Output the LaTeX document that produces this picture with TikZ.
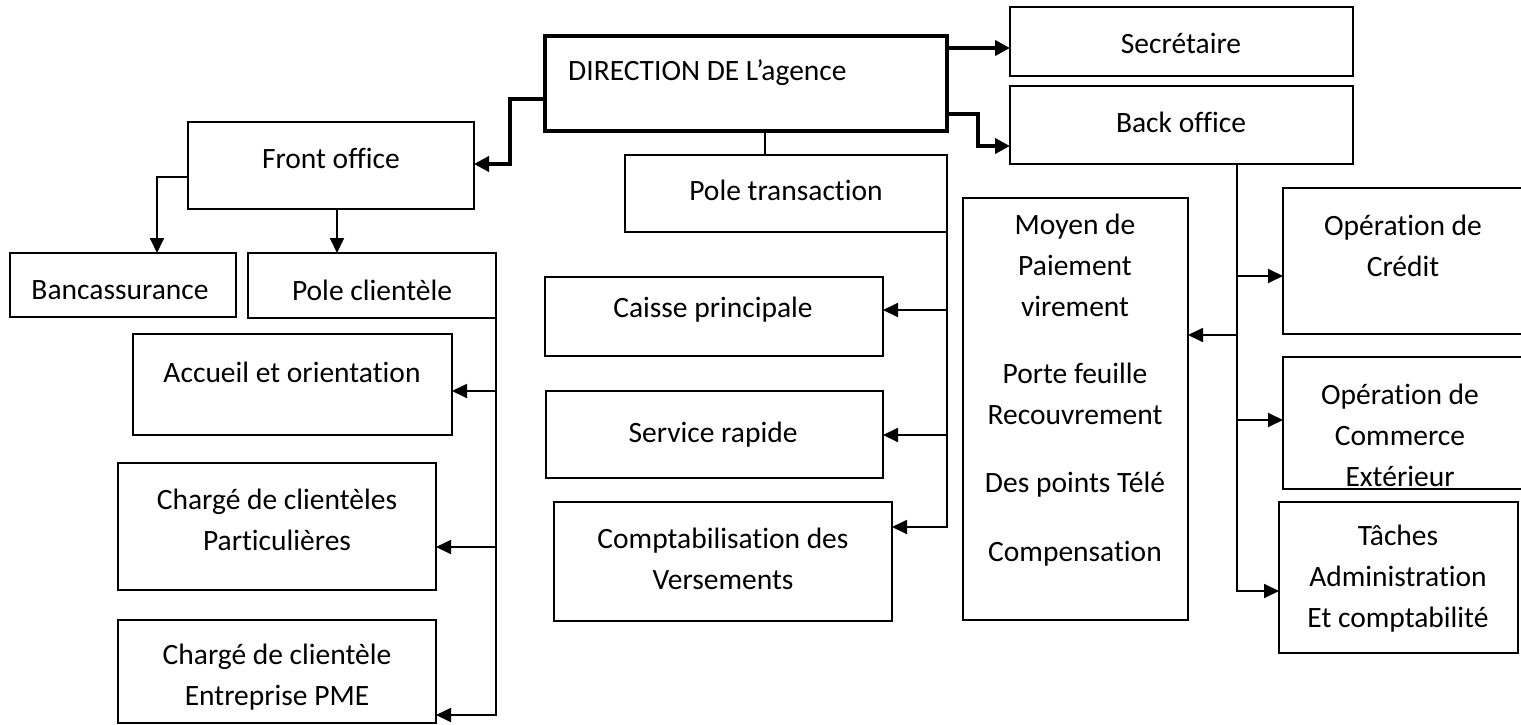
\documentclass[tikz,border=0pt]{standalone}
\usepackage{fontspec}
\setmainfont{Carlito}[Ligatures=NoCommon]
\usetikzlibrary{arrows.meta}
\begin{document}
\begin{tikzpicture}[x=1pt,y=-1pt,
  box/.style={draw,line width=1.8pt,rectangle,inner sep=0pt,outer sep=0pt},
  thickbox/.style={draw,line width=4.5pt,rectangle,inner sep=0pt,outer sep=0pt},
  txt/.style={align=center,inner sep=0pt,font=\fontsize{29.5}{41}\selectfont},
  conn/.style={line width=1.8pt},
  arr/.style={line width=1.8pt,-{Triangle[length=15pt,width=14pt]}},
  bigarr/.style={line width=4.5pt,-{Triangle[length=15pt,width=15pt]}}]
\useasboundingbox (0,0) rectangle (1521,725);
% boxes
\node[thickbox,minimum width=402pt,minimum height=95pt] (dir) at (746,83.5) {};
\node[box,minimum width=343pt,minimum height=69pt] (sec) at (1181.5,41.5) {};
\node[box,minimum width=343pt,minimum height=78pt] (back) at (1181.5,125) {};
\node[box,minimum width=286pt,minimum height=87pt] (front) at (331,165.5) {};
\node[box,minimum width=226pt,minimum height=64pt] (banc) at (123,285) {};
\node[box,minimum width=248pt,minimum height=65pt] (polec) at (372,285.5) {};
\node[box,minimum width=319pt,minimum height=101pt] (acc) at (292.5,384.5) {};
\node[box,minimum width=318pt,minimum height=127pt] (part) at (277,526.5) {};
\node[box,minimum width=318pt,minimum height=103pt] (pme) at (277,671.5) {};
\node[box,minimum width=322pt,minimum height=77pt] (polet) at (786,193.5) {};
\node[box,minimum width=338pt,minimum height=79pt] (caisse) at (714,316.5) {};
\node[box,minimum width=337pt,minimum height=87pt] (serv) at (714.5,434.5) {};
\node[box,minimum width=338pt,minimum height=119pt] (compta) at (723,561.5) {};
\node[box,minimum width=225pt,minimum height=422pt] (moyen) at (1075.5,409) {};
\node[box,minimum width=242pt,minimum height=146pt] (credit) at (1404,261) {};
\node[box,minimum width=242pt,minimum height=132pt] (comm) at (1404,423) {};
\node[box,minimum width=239pt,minimum height=151pt] (taches) at (1398.5,577.5) {};
% texts
\node[txt,anchor=west] (tdir) at (568,73) {DIRECTION DE L’agence};
\node[txt] (tsec) at (1181,43) {Secrétaire};
\node[txt] (tback) at (1181,122) {Back office};
\node[txt] (tfront) at (331,158) {Front office};
\node[txt] (tbanc) at (120,290) {Bancassurance};
\node[txt] (tpolec) at (372,290) {Pole clientèle};
\node[txt] (tacc) at (292,372) {Accueil et orientation};
\node[txt] (tpart) at (277,520) {Chargé de clientèles\\Particulières};
\node[txt] (tpme) at (277,677) {Chargé de clientèle\\Entreprise PME};
\node[txt] (tpolet) at (786,190) {Pole transaction};
\node[txt] (tcaisse) at (713,310) {Caisse principale};
\node[txt] (tserv) at (713,435) {Service rapide};
\node[txt] (tcompta) at (723,559) {Comptabilisation des\\Versements};
\node[txt,anchor=north] (tmoyen) at (1075,214) {Moyen de\\Paiement\\virement\\[26pt]Porte feuille\\Recouvrement\\[27pt]Des points Télé\\[28pt]Compensation};
\node[txt] (tcredit) at (1403,246) {Opération de\\Crédit};
\node[txt] (tcomm) at (1400,435) {Opération de\\Commerce\\Extérieur};
\node[txt] (ttaches) at (1398,579) {Tâches\\Administration\\Et comptabilité};
% connectors from direction
\draw[bigarr] (dir.east |- 0,48) -- (sec.west |- 0,48);
\draw[bigarr] (dir.east |- 0,114) -- (978,114) -- (978,146) -- (back.west |- 0,146);
\draw[bigarr] (dir.west |- 0,99) -- (510,99) -- (510,164) -- (front.east |- 0,164);
\draw[conn] (dir.south -| 765,0) -- (polet.north -| 765,0);
% front office
\draw[arr] (front.west |- 0,177) -| (banc.north -| 157,0);
\draw[arr] (front.south -| 337,0) -- (polec.north -| 337,0);
% pole clientele
\draw[arr] (polec.south east) |- (pme.east |- 0,715);
\draw[arr] (496,391) -- (acc.east |- 0,391);
\draw[arr] (496,547) -- (part.east |- 0,547);
% pole transaction
\draw[arr] (polet.south east) |- (compta.east |- 0,527);
\draw[arr] (947,310) -- (caisse.east |- 0,310);
\draw[arr] (947,435) -- (serv.east |- 0,435);
% back office
\draw[arr] (back.south -| 1237,0) |- (taches.west |- 0,591);
\draw[arr] (1237,276) -- (credit.west |- 0,276);
\draw[arr] (1237,420) -- (comm.west |- 0,420);
\draw[arr] (1237,335) -- (moyen.east |- 0,335);
\end{tikzpicture}
\end{document}
